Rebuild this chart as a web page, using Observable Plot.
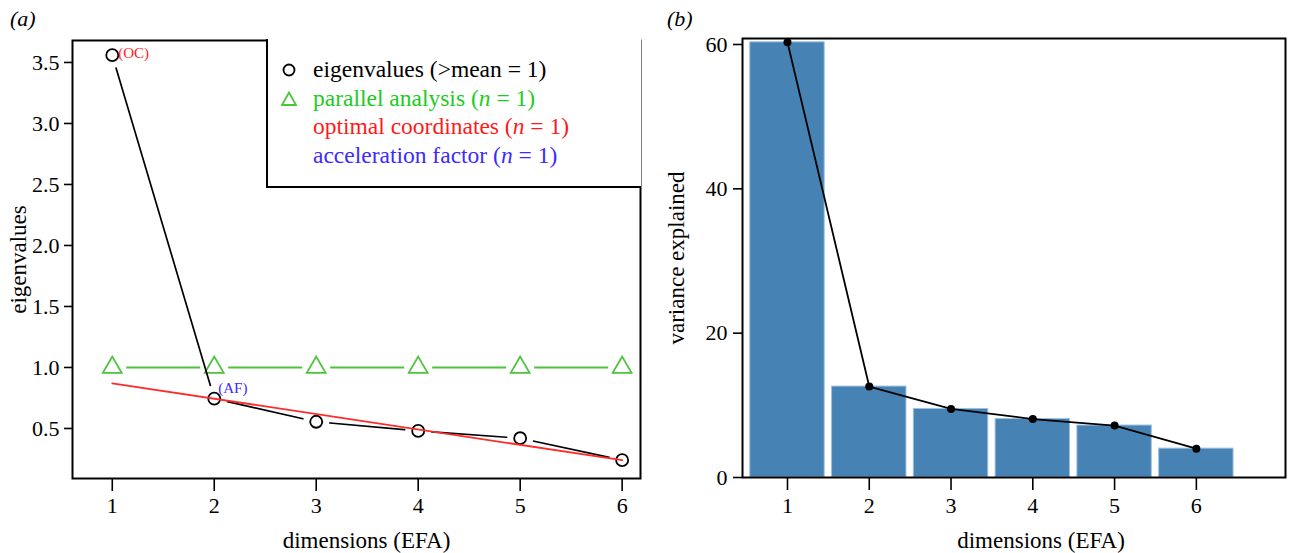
<!DOCTYPE html>
<html><head><meta charset="utf-8">
<script src="https://cdn.jsdelivr.net/npm/d3@7"></script>
<script src="https://cdn.jsdelivr.net/npm/@observablehq/plot@0.6"></script>
<style>
body{margin:0;background:#fff;font-family:"Liberation Serif","Times New Roman",serif;}
#wrap{position:relative;width:1295px;height:553px;overflow:hidden;background:#fff;}
.panel{position:absolute;top:0;}
.tag{position:absolute;top:6px;font-style:italic;font-size:22px;color:#000;}
#legend{position:absolute;left:266px;top:39px;width:373px;height:147px;border-left:2px solid #000;border-bottom:2px solid #000;background:#fff;font-size:23.5px;}
.row{position:absolute;left:0;height:28px;line-height:28px;white-space:nowrap;}
.row svg{position:absolute;left:13px;top:7px;}
.row span{position:absolute;left:45px;}
</style></head>
<body>
<div id="wrap">
  <div class="tag" style="left:10px">(a)</div>
  <div class="tag" style="left:667px">(b)</div>
  <div id="left" class="panel" style="left:0"></div>
  <div id="right" class="panel" style="left:650px"></div>
  <div id="legend"></div>
</div>
<script>
// ---- data ----
const dims = [1, 2, 3, 4, 5, 6];
const eigenvalues = [3.56, 0.745, 0.555, 0.48, 0.42, 0.24];
const parallelAnalysis = [1, 1, 1, 1, 1, 1];
const ocFitDims = [1, 6];
const ocFitValues = [0.87, 0.24];
const yTicksA = [0.5, 1.0, 1.5, 2.0, 2.5, 3.0, 3.5];
const varianceExplained = [60.3, 12.6, 9.5, 8.1, 7.2, 4.0];
const yTicksB = [0, 20, 40, 60];
const legendItems = [
  {label: "eigenvalues (>mean = 1)", n: false, color: "#000", symbol: "circle"},
  {label: "parallel analysis", n: true, color: "#1ccc1c", symbol: "triangle"},
  {label: "optimal coordinates", n: true, color: "#ff1a1a", symbol: null},
  {label: "acceleration factor", n: true, color: "#3b2bff", symbol: null}
];

const eig = dims.map((d, i) => ({dim: d, v: eigenvalues[i]}));
const pa = dims.map((d, i) => ({dim: d, v: parallelAnalysis[i]}));
const oc = ocFitDims.map((d, i) => ({dim: d, v: ocFitValues[i]}));
const vexp = dims.map((d, i) => ({dim: d, v: varianceExplained[i]}));

const font = "'Liberation Serif','Times New Roman',serif";
const green = "#4cc43c";

const left = Plot.plot({
  width: 650, height: 553,
  marginLeft: 72, marginRight: 10, marginTop: 40, marginBottom: 75,
  style: {fontFamily: font, fontSize: "22px", color: "#000", background: "transparent", overflow: "visible"},
  x: {domain: [0.61, 6.18]},
  y: {domain: [0.09, 3.68]},
  marks: [
    Plot.line(pa, {x: "dim", y: "v", stroke: green, strokeWidth: 1.8}),
    Plot.dot(pa, {x: "dim", y: "v", r: 14, fill: "white", stroke: "none"}),
    Plot.dot(pa, {x: "dim", y: "v", symbol: "triangle", r: 7, stroke: green, strokeWidth: 1.8, fill: "none"}),
    Plot.line(eig, {x: "dim", y: "v", stroke: "#000", strokeWidth: 1.7}),
    Plot.dot(eig, {x: "dim", y: "v", r: 13, fill: "white", stroke: "none"}),
    Plot.dot(eig, {x: "dim", y: "v", r: 6, stroke: "#000", strokeWidth: 1.8, fill: "none"}),
    Plot.line(oc, {x: "dim", y: "v", stroke: "#ff2a2a", strokeWidth: 1.8}),
    Plot.text([eig[0]], {x: "dim", y: "v", text: () => "(OC)", fill: "#ff1a1a", fontSize: 15, textAnchor: "start", dx: 6, dy: -2}),
    Plot.text([eig[1]], {x: "dim", y: "v", text: () => "(AF)", fill: "#3b2bff", fontSize: 15, textAnchor: "start", dx: 4, dy: -10}),
    Plot.frame({stroke: "#000", strokeWidth: 2}),
    Plot.axisX({ticks: dims, tickFormat: d => String(d), tickSize: 13, tickPadding: 6, strokeWidth: 1.6, label: null}),
    Plot.axisY({ticks: yTicksA, tickFormat: d3.format(".1f"), tickSize: 8, tickPadding: 5, strokeWidth: 1.6, label: null}),
    Plot.text(["dimensions (EFA)"], {frameAnchor: "bottom", text: d => d, dy: 62, dx: 10, fontSize: 23, textAnchor: "middle", lineAnchor: "middle"}),
    Plot.text(["eigenvalues"], {frameAnchor: "left", text: d => d, dx: -54, rotate: -90, fontSize: 23, textAnchor: "middle", lineAnchor: "middle"})
  ]
});
document.getElementById("left").appendChild(left);

const right = Plot.plot({
  width: 645, height: 553,
  marginLeft: 92, marginRight: 10, marginTop: 38, marginBottom: 76,
  style: {fontFamily: font, fontSize: "22px", color: "#000", background: "transparent", overflow: "visible"},
  x: {domain: [0.45, 7.09]},
  y: {domain: [0, 60.83]},
  marks: [
    Plot.rectY(vexp, {x1: d => d.dim - 0.455, x2: d => d.dim + 0.455, y: "v", fill: "#4682b4", stroke: "#9fc0e0", strokeWidth: 1}),
    Plot.line(vexp, {x: "dim", y: "v", stroke: "#000", strokeWidth: 1.8}),
    Plot.dot(vexp, {x: "dim", y: "v", r: 4, fill: "#000"}),
    Plot.frame({stroke: "#000", strokeWidth: 2}),
    Plot.axisX({ticks: dims, tickFormat: d => String(d), tickSize: 13, tickPadding: 7, strokeWidth: 1.6, label: null}),
    Plot.axisY({ticks: yTicksB, tickFormat: d => String(d), tickSize: 9, tickPadding: 6, strokeWidth: 1.6, label: null}),
    Plot.text(["dimensions (EFA)"], {frameAnchor: "bottom", text: d => d, dy: 63, dx: 27, fontSize: 23, textAnchor: "middle", lineAnchor: "middle"}),
    Plot.text(["variance explained"], {frameAnchor: "left", text: d => d, dx: -66, rotate: -90, fontSize: 23, textAnchor: "middle", lineAnchor: "middle"})
  ]
});
document.getElementById("right").appendChild(right);

// legend
const leg = document.getElementById("legend");
legendItems.forEach((it, i) => {
  const row = document.createElement("div");
  row.className = "row";
  row.style.top = (16 + i * 28.5) + "px";
  row.style.color = it.color;
  let sym = "";
  if (it.symbol === "circle") sym = `<svg width="16" height="16"><circle cx="8" cy="8" r="5.5" fill="none" stroke="#000" stroke-width="1.8"/></svg>`;
  if (it.symbol === "triangle") sym = `<svg width="16" height="16"><path d="M8,1.5L15,14H1Z" fill="none" stroke="${green}" stroke-width="1.8"/></svg>`;
  const txt = it.n ? `${it.label} (<i>n</i> = 1)` : it.label;
  row.innerHTML = sym + `<span>${txt}</span>`;
  leg.appendChild(row);
});
</script>
</body></html>
